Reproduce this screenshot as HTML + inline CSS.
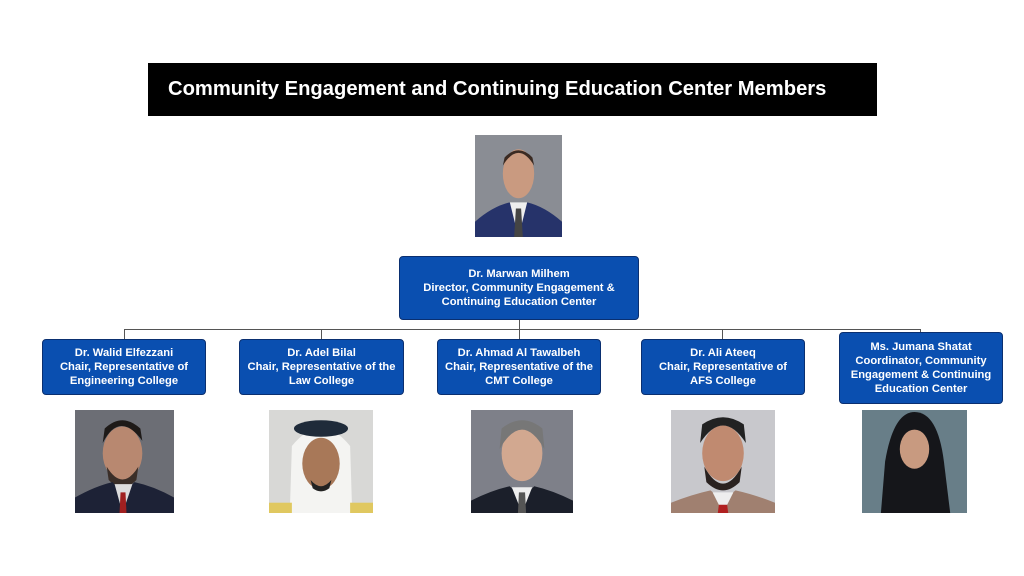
<!DOCTYPE html>
<html><head><meta charset="utf-8"><style>
body{margin:0;width:1024px;height:576px;background:#fff;position:relative;overflow:hidden;font-family:"Liberation Sans",sans-serif}
.t{position:absolute;left:148px;top:63px;width:729px;height:53px;background:#000;color:#fff;font-weight:bold;font-size:20.2px;line-height:53px;box-sizing:border-box;padding-left:20px;white-space:nowrap}
.b{position:absolute;background:#0a4fb0;border:1px solid #0a2f70;border-radius:4px;color:#fff;font-weight:bold;font-size:11.2px;line-height:14px;text-align:center;display:flex;align-items:center;justify-content:center;box-sizing:border-box;white-space:nowrap}
.ln{position:absolute;background:#555}
svg{position:absolute}
</style></head><body>
<div class="t">Community Engagement and Continuing Education Center Members</div>

<div class="ln" style="left:124px;top:329px;width:797px;height:1px"></div>
<div class="ln" style="left:519px;top:320px;width:1px;height:10px"></div>
<div class="ln" style="left:124px;top:329px;width:1px;height:10px"></div>
<div class="ln" style="left:321px;top:329px;width:1px;height:10px"></div>
<div class="ln" style="left:519px;top:329px;width:1px;height:10px"></div>
<div class="ln" style="left:722px;top:329px;width:1px;height:10px"></div>
<div class="ln" style="left:920px;top:329px;width:1px;height:4px"></div>

<div class="b" style="left:399px;top:256px;width:240px;height:64px">Dr. Marwan Milhem<br>Director, Community Engagement &amp;<br>Continuing Education Center</div>
<div class="b" style="left:42px;top:339px;width:164px;height:56px">Dr. Walid Elfezzani<br>Chair, Representative of<br>Engineering College</div>
<div class="b" style="left:239px;top:339px;width:165px;height:56px">Dr. Adel Bilal<br>Chair, Representative of the<br>Law College</div>
<div class="b" style="left:437px;top:339px;width:164px;height:56px">Dr. Ahmad Al Tawalbeh<br>Chair, Representative of the<br>CMT College</div>
<div class="b" style="left:641px;top:339px;width:164px;height:56px">Dr. Ali Ateeq<br>Chair, Representative of<br>AFS College</div>
<div class="b" style="left:839px;top:332px;width:164px;height:72px">Ms. Jumana Shatat<br>Coordinator, Community<br>Engagement &amp; Continuing<br>Education Center</div>

<svg style="left:475px;top:135px" width="87" height="102" viewBox="0 0 100 100" preserveAspectRatio="none"><rect width="100" height="100" fill="#8a8d94"/><ellipse cx="50" cy="38" rx="18" ry="24" fill="#c99a80"/><path d="M32 30 Q50 5 68 30 L66 22 Q50 8 34 22Z" fill="#3a2a22"/><path d="M0 100 L0 85 Q20 70 40 66 L50 80 L60 66 Q80 70 100 85 L100 100Z" fill="#26336a"/><path d="M40 66 L50 100 L60 66Z" fill="#eee"/><path d="M47 72 L53 72 L55 100 L45 100Z" fill="#444"/></svg>

<svg style="left:75px;top:410px" width="99" height="103" viewBox="0 0 100 100" preserveAspectRatio="none"><rect width="100" height="100" fill="#6c6e75"/><ellipse cx="48" cy="42" rx="20" ry="26" fill="#b88870"/><path d="M28 32 Q45 0 68 30 L66 18 Q48 2 30 18Z" fill="#1e1a18"/><path d="M32 55 Q48 80 64 55 L62 68 Q48 82 34 68Z" fill="#3a2e28"/><path d="M0 100 L0 85 Q20 74 38 70 L48 82 L60 70 Q80 74 100 85 L100 100Z" fill="#1d2236"/><path d="M40 72 L48 100 L58 72Z" fill="#ddd"/><path d="M46 80 L51 80 L52 100 L45 100Z" fill="#a02020"/></svg>

<svg style="left:269px;top:410px" width="104" height="103" viewBox="0 0 100 100" preserveAspectRatio="none"><rect width="100" height="100" fill="#d8d8d6"/><path d="M20 100 L22 35 Q50 0 78 35 L80 100Z" fill="#f4f4f2"/><ellipse cx="50" cy="18" rx="26" ry="8" fill="#1f2b3a"/><ellipse cx="50" cy="52" rx="18" ry="25" fill="#a87858"/><path d="M40 68 Q50 80 60 68 L58 76 Q50 82 42 76Z" fill="#222"/><rect x="0" y="90" width="22" height="10" fill="#e0c860"/><rect x="78" y="90" width="22" height="10" fill="#e0c860"/></svg>

<svg style="left:471px;top:410px" width="102" height="103" viewBox="0 0 100 100" preserveAspectRatio="none"><rect width="100" height="100" fill="#7e8089"/><ellipse cx="50" cy="42" rx="20" ry="27" fill="#d2a890"/><path d="M28 38 Q50 0 72 38 L70 18 Q50 2 30 18Z" fill="#777"/><path d="M0 100 L0 88 Q20 78 38 74 L50 86 L62 74 Q80 78 100 88 L100 100Z" fill="#1b1f2a"/><path d="M40 75 L50 100 L60 75Z" fill="#eee"/><path d="M47 80 L53 80 L54 100 L46 100Z" fill="#555"/></svg>

<svg style="left:671px;top:410px" width="104" height="103" viewBox="0 0 100 100" preserveAspectRatio="none"><rect width="100" height="100" fill="#c8c8cc"/><ellipse cx="50" cy="42" rx="20" ry="27" fill="#c08a70"/><path d="M28 32 Q50 -2 72 32 L70 14 Q50 0 30 14Z" fill="#222"/><path d="M32 55 Q50 88 68 55 L66 70 Q50 86 34 70Z" fill="#2a2220"/><path d="M0 100 L0 90 Q20 82 38 78 L50 88 L62 78 Q80 82 100 90 L100 100Z" fill="#a08070"/><path d="M40 80 L50 100 L60 80Z" fill="#eee"/><path d="M46 92 L54 92 L55 100 L45 100Z" fill="#b02020"/></svg>

<svg style="left:862px;top:410px" width="105" height="103" viewBox="0 0 100 100" preserveAspectRatio="none"><rect width="100" height="100" fill="#687e88"/><path d="M18 100 L22 50 Q30 2 50 2 Q72 2 78 50 L84 100Z" fill="#15161a"/><ellipse cx="50" cy="38" rx="14" ry="19" fill="#c89a80"/></svg>
</body></html>
